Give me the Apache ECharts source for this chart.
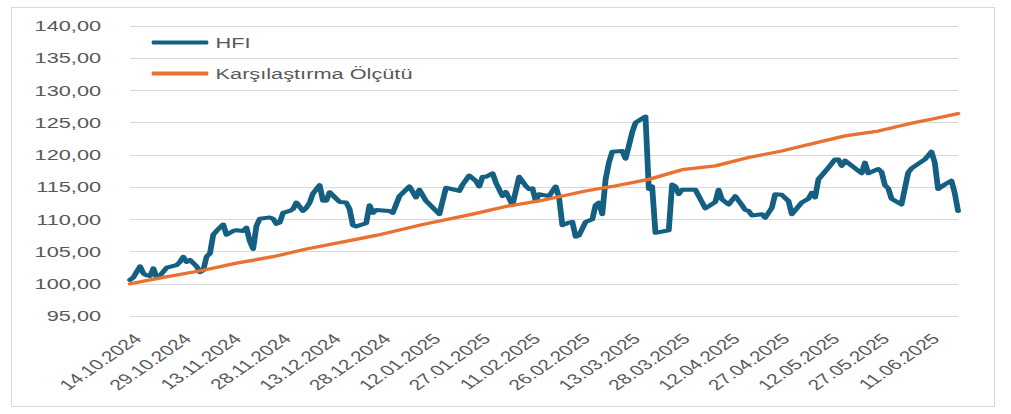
<!DOCTYPE html>
<html>
<head>
<meta charset="utf-8">
<script src="https://cdn.jsdelivr.net/npm/echarts@6/dist/echarts.min.js"></script>
<style>
  html, body { margin: 0; padding: 0; background: #fff; overflow: hidden; }
  #frame { position: absolute; left: 11px; top: 7px; width: 984px; height: 400px;
           border: 1px solid #d9d9d9; box-sizing: border-box; }
  /* chart is laid out narrow and widened horizontally */
  #chart { position: absolute; left: 0; top: 0; width: 697px; height: 414px;
           transform: scaleX(1.4505); transform-origin: 0 0; }
</style>
</head>
<body>
<div id="frame"></div>
<div id="chart"></div>
<script>
// Series names
const seriesNames = ['HFI', 'Karşılaştırma Ölçütü'];

// Axis range
const startDate = '14.10.2024';
const endDate = '20.06.2025';
const tickStepDays = 15;
const yMin = 95, yMax = 140, yStep = 5;

// HFI
const hfiDates = [
  '14.10.2024','15.10.2024','17.10.2024','18.10.2024','19.10.2024','20.10.2024','21.10.2024','22.10.2024','23.10.2024','25.10.2024',
  '28.10.2024','29.10.2024','30.10.2024','31.10.2024','01.11.2024','03.11.2024','04.11.2024','05.11.2024','06.11.2024','07.11.2024',
  '08.11.2024','09.11.2024','10.11.2024','11.11.2024','12.11.2024','14.11.2024','15.11.2024','17.11.2024','18.11.2024','19.11.2024',
  '20.11.2024','21.11.2024','22.11.2024','25.11.2024','26.11.2024','27.11.2024','28.11.2024','29.11.2024','01.12.2024','02.12.2024',
  '03.12.2024','05.12.2024','06.12.2024','07.12.2024','08.12.2024','10.12.2024','11.12.2024','12.12.2024','13.12.2024','14.12.2024',
  '16.12.2024','18.12.2024','19.12.2024','20.12.2024','21.12.2024','24.12.2024','25.12.2024','26.12.2024','27.12.2024','31.12.2024',
  '01.01.2025','03.01.2025','06.01.2025','08.01.2025','09.01.2025','11.01.2025','15.01.2025','17.01.2025','21.01.2025','22.01.2025',
  '24.01.2025','26.01.2025','27.01.2025','28.01.2025','29.01.2025','31.01.2025','01.02.2025','03.02.2025','04.02.2025','06.02.2025',
  '08.02.2025','10.02.2025','11.02.2025','12.02.2025','13.02.2025','14.02.2025','17.02.2025','19.02.2025','20.02.2025','21.02.2025',
  '23.02.2025','24.02.2025','25.02.2025','26.02.2025','28.02.2025','02.03.2025','03.03.2025','04.03.2025','05.03.2025','06.03.2025',
  '07.03.2025','08.03.2025','11.03.2025','12.03.2025','13.03.2025','14.03.2025','15.03.2025','17.03.2025','18.03.2025','19.03.2025',
  '20.03.2025','21.03.2025','25.03.2025','26.03.2025','27.03.2025','28.03.2025','29.03.2025','02.04.2025','05.04.2025','08.04.2025',
  '09.04.2025','10.04.2025','12.04.2025','14.04.2025','16.04.2025','17.04.2025','18.04.2025','19.04.2025','22.04.2025','23.04.2025',
  '25.04.2025','26.04.2025','28.04.2025','30.04.2025','01.05.2025','04.05.2025','06.05.2025','07.05.2025','08.05.2025','09.05.2025',
  '12.05.2025','14.05.2025','15.05.2025','16.05.2025','17.05.2025','22.05.2025','23.05.2025','24.05.2025','27.05.2025','28.05.2025',
  '29.05.2025','30.05.2025','31.05.2025','03.06.2025','05.06.2025','06.06.2025','10.06.2025','12.06.2025','13.06.2025','14.06.2025',
  '16.06.2025','18.06.2025','19.06.2025','20.06.2025'
];
const hfiValues = [
  100.6, 101.0, 102.7, 101.6, 101.3, 101.2, 102.4, 100.9, 101.3, 102.5,
  102.9, 103.4, 104.2, 103.4, 103.7, 102.7, 101.8, 102.1, 104.2, 104.7,
  107.6, 108.2, 108.7, 109.2, 107.6, 108.2, 108.3, 108.2, 108.7, 106.6,
  105.4, 109.0, 110.1, 110.3, 110.1, 109.3, 109.5, 111.0, 111.3, 111.6,
  112.6, 111.3, 111.8, 112.6, 114.0, 115.3, 112.9, 112.9, 114.2, 113.7,
  112.7, 112.6, 111.6, 109.1, 108.9, 109.4, 112.2, 111.0, 111.45, 111.3,
  111.0, 113.6, 115.1, 113.4, 114.6, 112.85, 110.8, 114.9, 114.4, 115.4,
  116.8, 115.95, 115.1, 116.6, 116.6, 117.15, 115.7, 113.6, 114.25, 112.2,
  116.6, 115.2, 114.7, 114.8, 112.85, 113.9, 113.6, 115.1, 113.4, 109.1,
  109.5, 109.6, 107.3, 107.5, 109.6, 110.0, 112.2, 112.6, 110.8, 116.2,
  118.8, 120.5, 120.6, 119.4, 121.4, 123.5, 125.0, 125.65, 125.95, 114.7,
  115.1, 107.9, 108.3, 115.4, 115.1, 113.9, 114.6, 114.6, 111.7, 112.7,
  114.6, 113.1, 112.3, 113.6, 112.2, 111.45, 111.3, 110.6, 110.8, 110.25,
  111.8, 113.9, 113.8, 112.85, 110.8, 112.6, 113.2, 114.1, 113.4, 116.2,
  118.0, 119.3, 119.3, 118.3, 119.1, 117.15, 118.8, 117.15, 117.8, 117.35,
  115.3, 114.8, 113.2, 112.3, 117.25, 117.9, 119.3, 120.5, 118.8, 114.7,
  115.4, 116.0, 114.1, 111.3
];

// Karşılaştırma Ölçütü
const benchDates = [
  '14.10.2024','24.10.2024','05.11.2024','15.11.2024','26.11.2024','06.12.2024','19.12.2024','27.12.2024','10.01.2025','25.01.2025',
  '04.02.2025','14.02.2025','28.02.2025','08.03.2025','19.03.2025','29.03.2025','08.04.2025','18.04.2025','28.04.2025','02.05.2025',
  '17.05.2025','27.05.2025','05.06.2025','13.06.2025','20.06.2025'
];
const benchValues = [
  100.0, 101.0, 102.1, 103.2, 104.2, 105.4, 106.7, 107.5, 109.2, 110.8,
  112.0, 112.85, 114.4, 115.1, 116.2, 117.7, 118.3, 119.6, 120.6, 121.1,
  122.95, 123.7, 124.8, 125.65, 126.4
];

const DAY = 86400000;
function parseDate(s) {
  const [d, m, y] = s.split('.').map(Number);
  return Date.UTC(y, m - 1, d);
}
const t0 = parseDate(startDate);
const toDay = s => Math.round((parseDate(s) - t0) / DAY);
function fmtDate(day) {
  const dt = new Date(t0 + Math.round(day) * DAY);
  const p = n => String(n).padStart(2, '0');
  return p(dt.getUTCDate()) + '.' + p(dt.getUTCMonth() + 1) + '.' + dt.getUTCFullYear();
}
const pairs = (dates, vals) => dates.map((d, i) => [toDay(d), vals[i]]);

const FONT = '"Liberation Sans", Arial, sans-serif';
const TEXT = '#595959';

const chart = echarts.init(document.getElementById('chart'), null, { renderer: 'svg' });
chart.setOption({
  animation: false,
  backgroundColor: 'transparent',
  grid: { left: 89.7, right: 36.5, top: 26, bottom: 98, containLabel: false },
  legend: {
    data: seriesNames,
    orient: 'vertical',
    left: 104.6,
    top: 35,
    padding: 0,
    itemGap: 16,
    itemWidth: 39,
    itemHeight: 4,
    icon: 'roundRect',
    textStyle: { color: TEXT, fontSize: 15, fontFamily: FONT }
  },
  xAxis: {
    type: 'value',
    min: 0,
    max: toDay(endDate),
    interval: tickStepDays,
    axisLine: { show: false },
    axisTick: { show: false },
    splitLine: { show: false },
    axisLabel: {
      rotate: 45,
      margin: 15,
      align: 'right',
      verticalAlign: 'top',
      showMaxLabel: false,
      color: TEXT,
      fontSize: 14.5,
      fontFamily: FONT,
      formatter: v => fmtDate(v)
    }
  },
  yAxis: {
    type: 'value',
    min: yMin,
    max: yMax,
    interval: yStep,
    axisLine: { show: false },
    axisTick: { show: false },
    splitLine: { lineStyle: { color: '#d9d9d9', width: 1 } },
    axisLabel: {
      margin: 20,
      color: TEXT,
      fontSize: 15,
      fontFamily: FONT,
      formatter: v => v.toFixed(2).replace('.', ',')
    }
  },
  series: [
    {
      name: seriesNames[0],
      type: 'line',
      data: pairs(hfiDates, hfiValues),
      showSymbol: false,
      symbol: 'none',
      color: '#156082',
      lineStyle: { width: 4, color: '#156082', cap: 'round', join: 'round' }
    },
    {
      name: seriesNames[1],
      type: 'line',
      data: pairs(benchDates, benchValues),
      showSymbol: false,
      symbol: 'none',
      color: '#E97132',
      lineStyle: { width: 3.3, color: '#E97132', cap: 'round', join: 'round' }
    }
  ]
});
</script>
</body>
</html>
